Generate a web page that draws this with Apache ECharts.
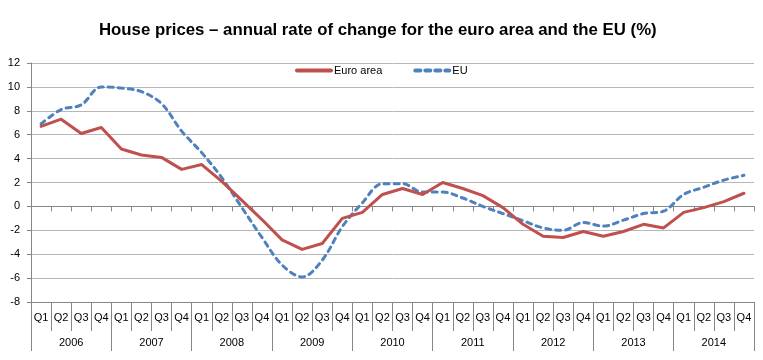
<!DOCTYPE html>
<html>
<head>
<meta charset="utf-8">
<script src="https://cdn.jsdelivr.net/npm/echarts@6/dist/echarts.min.js"></script>
<style>
html,body{margin:0;padding:0;background:#fff;}
#chart{width:763px;height:360px;}
</style>
</head>
<body>
<div id="chart"></div>
<script>
var years = ['2006','2007','2008','2009','2010','2011','2012','2013','2014'];
var quarterLabels = ['Q1','Q2','Q3','Q4'];
var quarterKeys = [];
years.forEach(function (y) { quarterLabels.forEach(function (q) { quarterKeys.push(y + ' ' + q); }); });

var euroArea = [6.7, 7.3, 6.1, 6.6, 4.8, 4.3, 4.1, 3.1, 3.5, 2.1, 0.5, -1.1,
                -2.8, -3.6, -3.1, -1.0, -0.5, 1.0, 1.5, 1.0, 2.0, 1.5, 0.9, -0.1,
                -1.5, -2.5, -2.6, -2.1, -2.5, -2.1, -1.5, -1.8, -0.5, -0.1, 0.4, 1.1];
var eu = [6.9, 8.1, 8.5, 10.0, 9.9, 9.6, 8.6, 6.3, 4.5, 2.4, -0.1, -2.6,
          -4.9, -5.9, -4.5, -1.7, 0.3, 1.9, 1.9, 1.2, 1.2, 0.7, 0.0, -0.6,
          -1.2, -1.8, -2.0, -1.35, -1.65, -1.15, -0.6, -0.4, 1.0, 1.6, 2.2, 2.6];

var titleText = 'House prices \u2013 annual rate of change for the euro area and the EU (%)';
var FONT = 'Liberation Sans';
var AX = '#868686';

var chart = echarts.init(document.getElementById('chart'), null, {renderer: 'canvas'});
chart.setOption({
  animation: false,
  backgroundColor: '#fff',
  title: {
    text: titleText, left: 99, top: 22, padding: 0,
    textStyle: {fontFamily: FONT, fontWeight: 'bold', fontSize: 16.8, color: '#000'}
  },
  legend: {
    left: 290, top: 60, itemWidth: 34, itemHeight: 10, itemGap: 31,
    padding: 5,
    itemStyle: {opacity: 0},
    lineStyle: {width: 4},
    textStyle: {fontFamily: FONT, fontSize: 11, color: '#000', padding: [0, 0, 0, -2]},
    data: ['Euro area', 'EU']
  },
  grid: {left: 31, right: 9, top: 63, bottom: 58},
  xAxis: [
    {
      type: 'category', data: quarterKeys, boundaryGap: true,
      axisLine: {onZero: true, lineStyle: {color: AX, width: 1}},
      axisTick: {show: true, length: 5, interval: 0, lineStyle: {color: AX}},
      axisLabel: {show: false}, splitLine: {show: false}
    },
    {
      type: 'category', data: quarterKeys, boundaryGap: true, position: 'bottom',
      axisLine: {onZero: false, lineStyle: {color: AX, width: 1}},
      axisTick: {show: true, length: 29, interval: 0, lineStyle: {color: AX}},
      axisLabel: {show: true, interval: 0, margin: 10, fontFamily: FONT, fontSize: 11, color: '#000',
        formatter: function (v, i) { return quarterLabels[i % quarterLabels.length]; }},
      splitLine: {show: false}
    },
    {
      type: 'category', data: years, boundaryGap: true, position: 'bottom',
      axisLine: {onZero: false, lineStyle: {color: AX, width: 1}},
      axisTick: {show: true, length: 49, interval: 0, lineStyle: {color: AX}},
      axisLabel: {show: true, interval: 0, margin: 35, fontFamily: FONT, fontSize: 11, color: '#000'},
      splitLine: {show: false}
    }
  ],
  yAxis: {
    type: 'value', min: -8, max: 12, interval: 2,
    axisLine: {show: true, lineStyle: {color: AX, width: 1}},
    axisTick: {show: true, length: 4, lineStyle: {color: AX}},
    axisLabel: {margin: 11, fontFamily: FONT, fontSize: 11, color: '#000'},
    splitLine: {show: true, lineStyle: {color: '#b7b7b7', width: 1}}
  },
  series: [
    {
      name: 'Euro area', type: 'line', xAxisIndex: 0, data: euroArea,
      symbol: 'none', smooth: false, color: '#C0504D',
      lineStyle: {color: '#C0504D', width: 3, cap: 'round', join: 'round'},
      z: 3
    },
    {
      name: 'EU', type: 'line', xAxisIndex: 0, data: eu,
      symbol: 'none', smooth: 0.35, color: '#4F81BD',
      lineStyle: {color: '#4F81BD', width: 3, type: [5, 5], cap: 'round'},
      z: 2
    }
  ]
});
</script>
</body>
</html>
